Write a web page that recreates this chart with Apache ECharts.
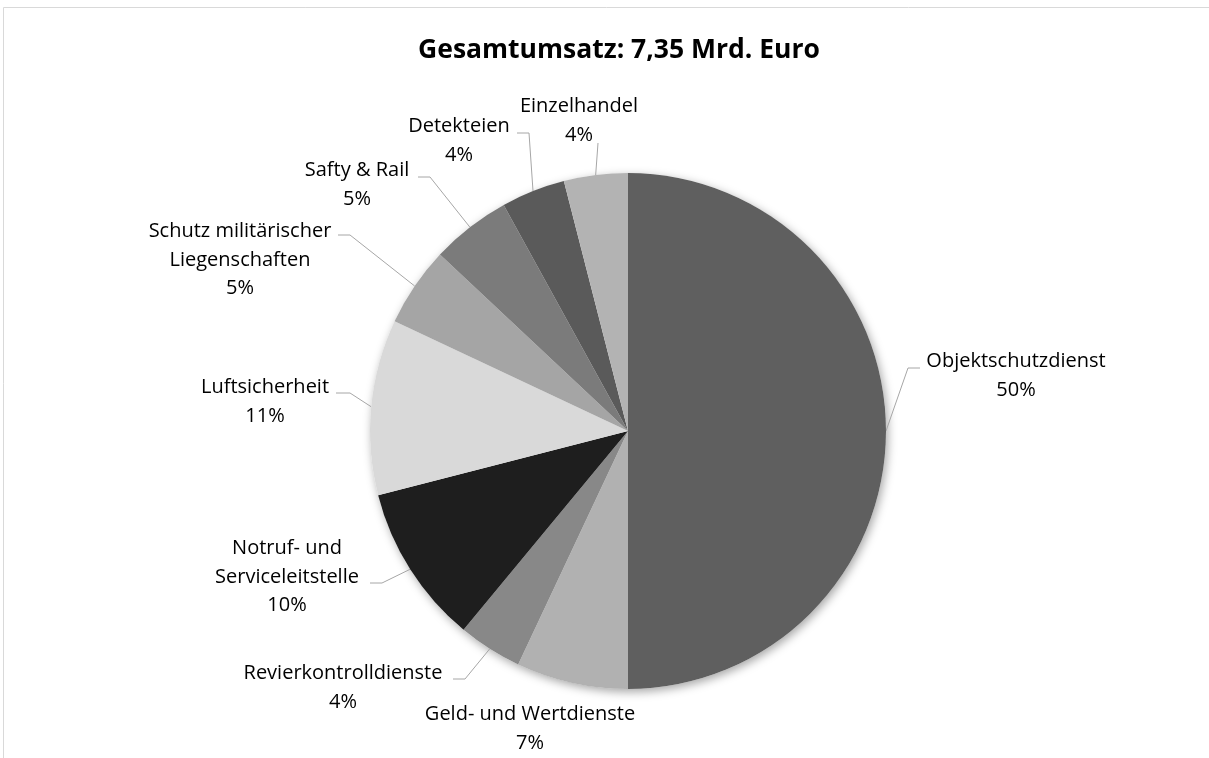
<!DOCTYPE html>
<html>
<head>
<meta charset="utf-8">
<script src="https://cdn.jsdelivr.net/npm/echarts@6/dist/echarts.min.js"></script>
<style>
  html, body { margin: 0; padding: 0; background: #fff; }
  #chart { width: 1209px; height: 758px; }
</style>
</head>
<body>
<div id="chart"></div>
<script>
// Umsatzanteile nach Sparte (Prozent), im Uhrzeigersinn ab 12 Uhr
const sparten = [
  'Objektschutzdienst',
  'Geld- und Wertdienste',
  'Revierkontrolldienste',
  'Notruf- und\nServiceleitstelle',
  'Luftsicherheit',
  'Schutz militärischer\nLiegenschaften',
  'Safty & Rail',
  'Detekteien',
  'Einzelhandel'
];
const anteile = [50, 7, 4, 10, 11, 5, 5, 4, 4];
const grautoene = ['#5f5f5f', '#b1b1b1', '#888888', '#1e1e1e', '#d9d9d9', '#a5a5a5', '#7b7b7b', '#5a5a5a', '#b3b3b3'];

// label placement (center of text block) + leader line bend/end, Excel style
const labelPos = [
  { x: 1016, y: 376, line: [[908, 368], [920, 368]] },
  { x: 530, y: 729, line: null },
  { x: 343, y: 688, line: [[465, 679], [453, 679]] },
  { x: 287, y: 577, line: [[382, 583], [370, 583]] },
  { x: 265, y: 402, line: [[350, 393], [336, 393]] },
  { x: 240, y: 260, line: [[350, 235], [338, 235]] },
  { x: 357, y: 185, line: [[430, 177], [418, 177]] },
  { x: 459, y: 141, line: [[529, 133], [517, 133]] },
  { x: 579, y: 121, line: [[598, 143]] }
];

const FONT = '"Open Sans", sans-serif';
const chart = echarts.init(document.getElementById('chart'));

const data = sparten.map((name, i) => ({
  name,
  value: anteile[i],
  itemStyle: { color: grautoene[i] },
  labelLine: { show: !!labelPos[i].line }
}));

chart.setOption({
  animation: false,
  title: {
    text: 'Gesamtumsatz: 7,35 Mrd. Euro',
    left: 614,
    top: 32,
    textAlign: 'center',
    textStyle: { fontFamily: FONT, fontWeight: 'bold', fontSize: 26.5, color: '#000' }
  },
  graphic: [{
    type: 'rect',
    shape: { x: 3.5, y: 7.5, width: 1230, height: 800 },
    style: { fill: 'none', stroke: '#d9d9d9', lineWidth: 1 },
    silent: true
  }],
  series: [{
    // shadow disc behind the slices
    type: 'pie',
    silent: true,
    z: 1,
    center: [628, 431],
    radius: 258,
    label: { show: false },
    labelLine: { show: false },
    itemStyle: { color: '#fff', shadowBlur: 10, shadowColor: 'rgba(0,0,0,0.35)', shadowOffsetX: 2, shadowOffsetY: 3 },
    data: [{ value: anteile.reduce((a, b) => a + b, 0), name: '' }]
  }, {
    type: 'pie',
    z: 2,
    center: [628, 431],
    radius: 258,
    startAngle: 90,
    clockwise: true,
    avoidLabelOverlap: false,
    percentPrecision: 0,
    itemStyle: { borderWidth: 0 },
    label: {
      show: true,
      position: 'outside',
      formatter: '{b}\n{d}%',
      fontFamily: FONT,
      fontSize: 20,
      lineHeight: 28.5,
      color: '#000',
      align: 'center'
    },
    labelLine: { show: true, lineStyle: { color: '#a6a6a6', width: 1 } },
    labelLayout: p => {
      const lp = labelPos[p.dataIndex];
      const out = { x: lp.x, y: lp.y, align: 'center', verticalAlign: 'middle' };
      if (lp.line && p.labelLinePoints) {
        out.labelLinePoints = [p.labelLinePoints[0]].concat(lp.line);
      }
      return out;
    },
    emphasis: { disabled: true },
    data
  }]
});
</script>
</body>
</html>
